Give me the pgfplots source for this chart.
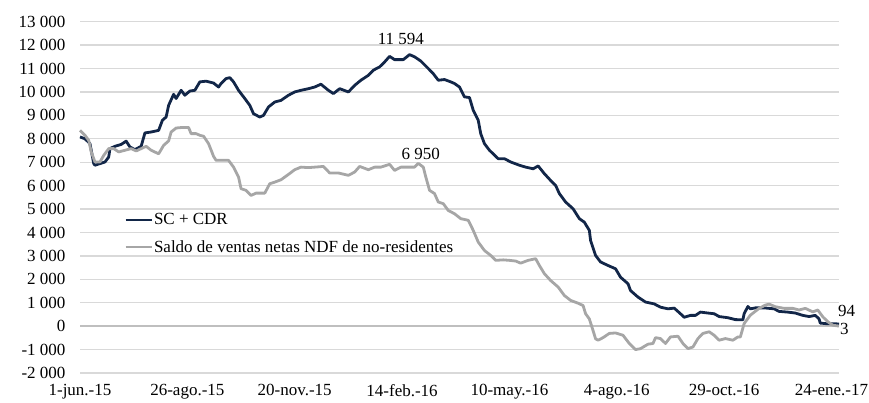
\documentclass[border=0pt]{standalone}
\usepackage{fontspec}
\setmainfont{Liberation Serif}
\usepackage{pgfplots}
\pgfplotsset{compat=1.18}
\definecolor{navy}{RGB}{18,38,72}
\definecolor{lgray}{RGB}{166,166,166}
\definecolor{gridc}{RGB}{217,217,217}
\definecolor{zeroc}{RGB}{191,191,191}
\begin{document}
\begin{tikzpicture}[font=\fontsize{17pt}{20pt}\selectfont]
\useasboundingbox (-80pt,-30pt) rectangle (789pt,373pt);
\begin{axis}[
  scale only axis, width=759pt, height=351.3pt,
  at={(0pt,0pt)}, anchor=south west,
  xmin=0, xmax=608, ymin=-2000, ymax=13000,
  axis line style={draw=none},
  major tick length=0pt,
  scaled y ticks=false, scaled x ticks=false,
  xtick={0,86,172,258,344,430,516,602},
  xticklabels={1-jun.-15,26-ago.-15,20-nov.-15,14-feb.-16,10-may.-16,4-ago.-16,29-oct.-16,24-ene.-17},
  ytick={-2000,-1000,...,13000},
  yticklabels={-2 000,-1 000,0,1 000,2 000,3 000,4 000,5 000,6 000,7 000,8 000,9 000,10 000,11 000,12 000,13 000},
  yticklabel style={xshift=-11pt},
  xticklabel style={yshift=-8pt},
  ymajorgrids, grid style={gridc, line width=1.3pt},
  extra y ticks={0}, extra y tick labels={},
  extra y tick style={grid style={zeroc, line width=2pt}},
  clip=false,
  legend cell align=left,
  legend image code/.code={\draw[#1] (0pt,0pt) -- (26pt,0pt);},
  legend style={at={(0.058,0.457)}, anchor=north west, draw=none, fill=none,
    inner sep=0pt, row sep=12pt, nodes={inner xsep=1pt, inner ysep=1pt}},
]
\addplot[navy, line width=2.8pt, line join=round] coordinates {
(0,8080)(4,8000)(8,7790)(11,6940)(12,6870)(16,6940)(20,7010)(23,7220)(24,7580)(28,7680)
(33,7760)(37,7900)(40,7650)(44,7540)(49,7680)(52,8250)(57,8290)(63,8360)(66,8790)(69,8930)
(71,9430)(75,9900)(77,9720)(81,10070)(84,9860)(88,10040)(92,10070)(96,10430)(101,10460)(107,10380)
(111,10210)(113,10360)(117,10570)(120,10610)(123,10430)(127,10070)(132,9720)(136,9430)(139,9070)(144,8930)
(147,9000)(151,9360)(156,9570)(161,9640)(167,9860)(172,10000)(177,10070)(183,10140)(188,10210)(193,10330)
(199,10070)(203,9930)(208,10140)(215,10000)(220,10280)(225,10500)(231,10710)(235,10930)(240,11070)(244,11280)
(248,11520)(252,11380)(259,11380)(264,11594)(268,11500)(273,11320)(279,11000)(283,10780)(287,10500)(292,10530)
(297,10430)(300,10360)(304,10210)(308,9790)(312,9760)(315,9220)(319,8790)(321,8220)(324,7790)(328,7510)
(335,7150)(340,7150)(345,7010)(352,6870)(357,6790)(363,6720)(367,6840)(372,6510)(377,6220)(381,6010)
(384,5660)(389,5300)(395,5010)(400,4590)(404,4440)(408,4090)(409,3660)(413,3020)(417,2740)(423,2590)
(429,2450)(433,2090)(439,1810)(441,1520)(447,1240)(453,1030)(460,950)(465,810)(471,740)(476,770)
(481,530)(484,380)(489,460)(493,460)(497,600)(503,560)(508,530)(512,410)(519,360)(525,280)
(531,270)(532,530)(535,840)(537,740)(541,780)(548,780)(556,740)(560,630)(567,600)(573,560)
(579,460)(584,410)(589,460)(592,310)(593,130)(599,100)(604,100)(608,94)
};
\addlegendentry{SC + CDR}
\addplot[lgray, line width=2.8pt, line join=round] coordinates {
(0,8360)(4,8150)(7,7930)(9,7440)(12,7010)(16,7010)(19,7290)(23,7580)(27,7580)(31,7440)
(36,7510)(41,7580)(45,7480)(49,7580)(53,7680)(57,7510)(63,7360)(67,7720)(71,7910)(73,8290)
(77,8460)(81,8480)(87,8480)(89,8220)(93,8220)(96,8150)(99,8110)(103,7790)(107,7250)(109,7080)
(115,7080)(119,7080)(123,6790)(127,6370)(129,5870)(133,5800)(137,5580)(141,5680)(148,5680)(152,6080)
(156,6150)(161,6250)(167,6480)(172,6680)(177,6790)(183,6770)(188,6790)(195,6820)(200,6540)(207,6540)
(215,6440)(220,6580)(224,6820)(231,6680)(236,6790)(241,6790)(248,6910)(252,6650)(257,6790)(263,6790)
(268,6790)(271,6950)(275,6790)(277,6370)(280,5800)(284,5660)(287,5300)(291,5230)(295,4940)(300,4800)
(305,4590)(311,4520)(315,4090)(319,3590)(324,3230)(329,3020)(333,2810)(339,2830)(344,2810)(349,2780)
(353,2690)(359,2810)(365,2880)(368,2590)(372,2240)(377,1950)(383,1670)(388,1310)(393,1100)(399,980)
(403,880)(405,530)(408,310)(411,-190)(413,-540)(415,-600)(419,-490)(424,-310)(429,-290)(435,-390)
(440,-740)(445,-1000)(449,-960)(455,-770)(459,-740)(461,-490)(465,-530)(469,-740)(473,-460)(479,-430)
(483,-740)(487,-960)(491,-890)(495,-530)(499,-310)(504,-240)(508,-390)(512,-600)(517,-530)(523,-600)
(527,-460)(529,-460)(532,110)(537,470)(544,760)(549,900)(552,940)(557,830)(564,760)(571,760)
(576,690)(581,760)(587,610)(591,690)(595,400)(599,190)(603,40)(608,3)
};
\addlegendentry{Saldo de ventas netas NDF de no-residentes}
\addplot[draw=none, forget plot, nodes near coords, point meta=explicit symbolic,
  nodes near coords style={anchor=south, yshift=6pt}] coordinates {(257,11594)[11 594]};
\addplot[draw=none, forget plot, nodes near coords, point meta=explicit symbolic,
  nodes near coords style={anchor=south, yshift=0pt}] coordinates {(273,6950)[6 950]};
\addplot[draw=none, forget plot, nodes near coords, point meta=explicit symbolic,
  nodes near coords style={anchor=west, inner sep=0pt, xshift=-1pt, yshift=13pt}] coordinates {(608,94)[94]};
\addplot[draw=none, forget plot, nodes near coords, point meta=explicit symbolic,
  nodes near coords style={anchor=west, inner sep=0pt, xshift=1pt, yshift=-3pt}] coordinates {(608,3)[3]};
\end{axis}
\end{tikzpicture}
\end{document}
